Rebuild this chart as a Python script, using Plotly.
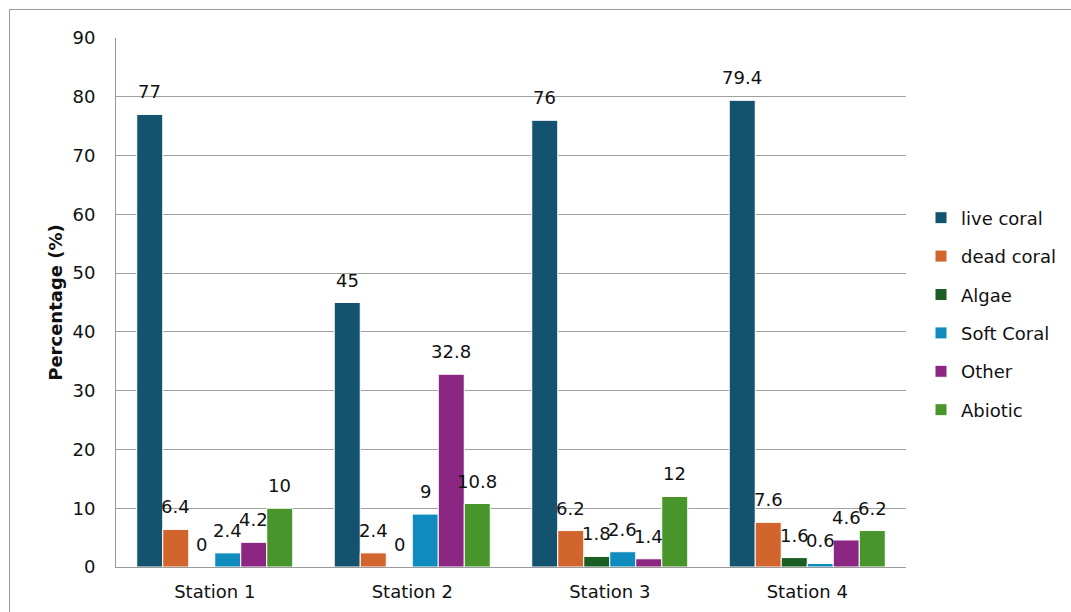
import plotly.graph_objects as go

stations = ["Station 1", "Station 2", "Station 3", "Station 4"]
live_coral = [77, 45, 76, 79.4]
dead_coral = [6.4, 2.4, 6.2, 7.6]
algae = [0, 0, 1.8, 1.6]
soft_coral = [2.4, 9, 2.6, 0.6]
other = [4.2, 32.8, 1.4, 4.6]
abiotic = [10, 10.8, 12, 6.2]

series_names = ["live coral", "dead coral", "Algae", "Soft Coral", "Other", "Abiotic"]
series_values = [live_coral, dead_coral, algae, soft_coral, other, abiotic]
colors = ["#14536F", "#D2652D", "#1A5E23", "#0F8BBE", "#8B2682", "#47952B"]

FONT = "Verdana, DejaVu Sans, sans-serif"
FS = 18
BARGAP = 0.21

fig = go.Figure()
n = len(series_names)
for i, (name, vals, col) in enumerate(zip(series_names, series_values, colors)):
    fig.add_trace(go.Bar(
        name=name, x=stations, y=vals,
        marker=dict(color=col, line=dict(color="white", width=1)),
        legendgroup=name,
    ))
    # data labels via annotations, centered over each bar
    w = (1 - BARGAP) / n
    for k, v in enumerate(vals):
        xc = k - (1 - BARGAP) / 2 + (i + 0.5) * w
        fig.add_annotation(
            x=xc, y=v, xref="x", yref="y",
            text=("%g" % v), showarrow=False,
            yanchor="bottom", yshift=10,
            font=dict(family=FONT, size=FS, color="#111"),
        )

W, H = 1071, 612
ml, mr, mt, mb = 116, 165, 38, 45
pw, ph = W - ml - mr, H - mt - mb

def px2x(p):
    return (p - ml) / pw

def py2y(p):
    return (H - mb - p) / ph

fig.add_shape(type="line", xref="paper", yref="paper",
              x0=px2x(9), x1=px2x(1075), y0=py2y(9.5), y1=py2y(9.5),
              line=dict(color="#9a9a9a", width=1))
fig.add_shape(type="line", xref="paper", yref="paper",
              x0=px2x(9.5), x1=px2x(9.5), y0=py2y(9), y1=py2y(620),
              line=dict(color="#9a9a9a", width=1))

fig.update_layout(
    width=W, height=H,
    margin=dict(l=ml, r=mr, t=mt, b=mb, autoexpand=False),
    paper_bgcolor="white", plot_bgcolor="white",
    barmode="group", bargap=BARGAP, bargroupgap=0,
    font=dict(family=FONT, size=FS, color="#111"),
    showlegend=True,
    legend=dict(x=px2x(921), xanchor="left", y=py2y(314), yanchor="middle",
                font=dict(family=FONT, size=FS, color="#111"),
                tracegroupgap=12, itemwidth=30,
                bgcolor="rgba(0,0,0,0)"),
    xaxis=dict(showline=True, linecolor="#9a9a9a", linewidth=1,
               showgrid=False, ticks="", tickfont=dict(size=FS),
               ticklabelstandoff=8, range=[-0.5, 3.5]),
    yaxis=dict(range=[0, 90], dtick=10, showgrid=True, gridcolor="#a0a0a0",
               gridwidth=1, showline=True, linecolor="#9a9a9a", linewidth=1,
               ticks="", tickfont=dict(size=FS), ticklabelstandoff=16,
               zeroline=False,
               title=dict(text="<b>Percentage (%)</b>", font=dict(size=FS), standoff=5)),
)

fig.write_html("out.html")
